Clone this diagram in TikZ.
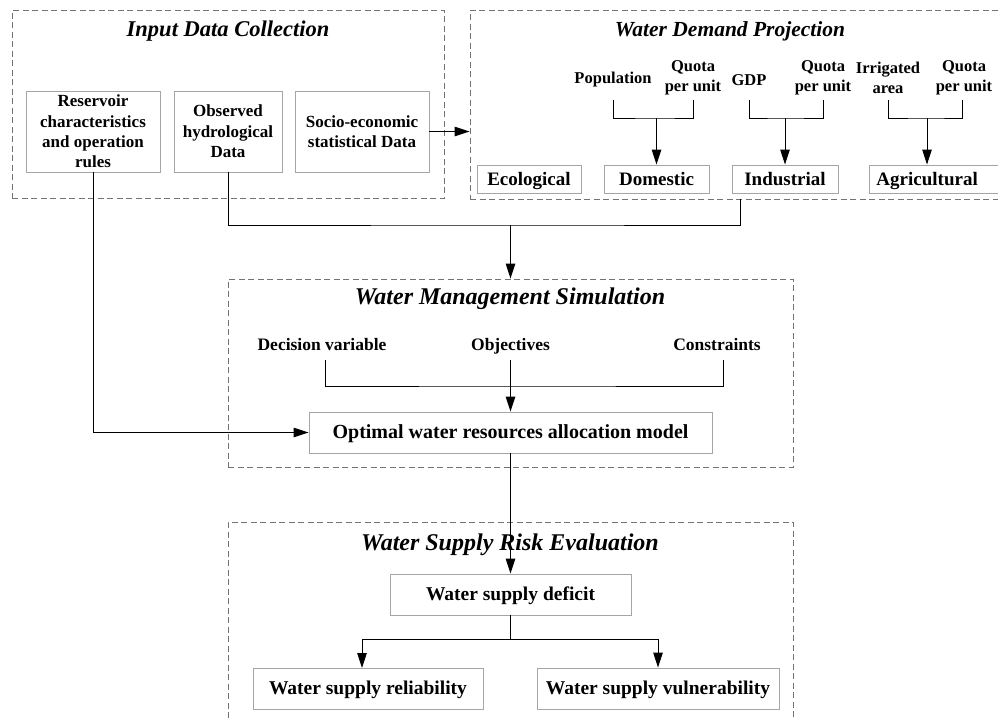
\documentclass[tikz,border=0pt]{standalone}
\usepackage{fontspec}
\setmainfont{Liberation Serif}
\usepackage{tikz}
\usetikzlibrary{arrows.meta, calc, positioning}
\definecolor{boxgray}{RGB}{165,165,165}
\definecolor{framegray}{RGB}{115,115,115}
\tikzset{
  >={Triangle[length=15pt, width=9.5pt]},
  link/.style={line width=1pt, black},
  flow/.style={->, line width=1pt, black},
  groupframe/.style={draw=framegray, line width=0.9pt,
                     dash pattern=on 6pt off 3.5pt, inner sep=0pt},
  grouptitle/.style={font=\fontsize{21.5}{24}\selectfont\bfseries\itshape},
  databox/.style={draw=boxgray, line width=0.9pt, align=center, inner sep=2pt},
  inputbox/.style={databox, minimum height=81,
                   font=\fontsize{17}{20.4}\selectfont\bfseries},
  demandbox/.style={databox, minimum height=28, text height=16pt,
                    text depth=3.5pt, font=\fontsize{19}{22}\selectfont\bfseries},
  resultbox/.style={databox, minimum height=41, text height=16pt,
                    text depth=3.5pt, font=\fontsize{19.5}{23}\selectfont\bfseries},
  factor/.style={align=center, inner sep=0pt,
                 font=\fontsize{16.5}{20}\selectfont\bfseries},
  simfactor/.style={inner sep=0pt, text height=12pt, text depth=4pt,
                    font=\fontsize{17.5}{20}\selectfont\bfseries},
}

\begin{document}
\begin{tikzpicture}[x=1pt, y=-1pt]
  \useasboundingbox (0,0) rectangle (998,720);
  \clip (0,0) rectangle (998,720);

  % Input data collection
  \node[groupframe, minimum width=432, minimum height=188]
    (inputgrp) at (228,104) {};
  \node[grouptitle, font=\fontsize{22.5}{25}\selectfont\bfseries\itshape]
    (inputttl) at (228,31) {Input Data Collection};
  \node[inputbox, minimum width=134] (reservoir) at (93,131.5)
    {Reservoir\\characteristics\\and operation\\rules};
  \node[inputbox, minimum width=108] (observed) at (228,131.5)
    {Observed\\hydrological\\Data};
  \node[inputbox, minimum width=134] (socio) at (362,131.5)
    {Socio-economic\\statistical Data};

  % Water demand projection
  \node[groupframe, minimum width=540, minimum height=189]
    (demandgrp) at (740,104.5) {};
  \node[grouptitle] (demandttl) at (730,31) {Water Demand Projection};
  \node[factor] (pop) at (613,80) {Population};
  \node[factor] (quotaA) at (693,78) {Quota\\per unit};
  \node[factor] (gdp) at (749,80) {GDP};
  \node[factor] (quotaB) at (823,78) {Quota\\per unit};
  \node[factor] (irrig) at (888,78) {Irrigated\\area};
  \node[factor] (quotaC) at (964,78) {Quota\\per unit};
  \node[demandbox, minimum width=104] (ecological) at (529,179) {Ecological};
  \node[demandbox, minimum width=105] (domestic) at (656.5,179) {Domestic};
  \node[demandbox, minimum width=106] (industrial) at (785,179) {Industrial};
  \node[demandbox, anchor=west, inner xsep=7pt] (agri) at (869,179)
    {\makebox[122pt][l]{Agricultural}};

  \foreach \lx/\rx/\jx/\tg in {613/693/656.5/domestic,
                                749/823/785/industrial,
                                888/962/927/agri}{
    \draw[link] (\lx,100) |- (\jx,118) -| (\rx,100);
    \draw[flow] (\jx,118) -- (\jx,118 |- \tg.north);
  }

  % Water management simulation
  \node[groupframe, minimum width=565, minimum height=188]
    (managegrp) at (510.5,373) {};
  \node[grouptitle, font=\fontsize{24}{27}\selectfont\bfseries\itshape]
    (managettl) at (510,299) {Water Management Simulation};
  \node[simfactor] (decision) at (322,346) {Decision variable};
  \node[simfactor] (objectives) at (510.5,346) {Objectives};
  \node[simfactor] (constraints) at (717,346) {Constraints};
  \node[resultbox, minimum width=403, font=\fontsize{20}{23}\selectfont\bfseries]
    (optimal) at (510.5,432.5) {Optimal water resources allocation model};

  \coordinate (decTop) at (325,360);
  \coordinate (conTop) at (723,360);
  \coordinate (simJoin) at (510.5,386);
  \draw[link] (decTop) |- (simJoin) -| (conTop);
  \draw[flow] (objectives.south |- decTop) -- (optimal.north);

  % Water supply risk evaluation
  \node[groupframe, minimum width=565, minimum height=238]
    (riskgrp) at (510.5,641) {};
  \node[grouptitle, font=\fontsize{24}{27}\selectfont\bfseries\itshape]
    (riskttl) at (510,545) {Water Supply Risk Evaluation};
  \node[resultbox, minimum width=241] (deficit) at (510.5,594.5)
    {Water supply deficit};
  \node[resultbox, minimum width=230] (reliab) at (368,688.5)
    {Water supply reliability};
  \node[resultbox, minimum width=242] (vulner) at (658,688.5)
    {Water supply vulnerability};

  % connectors between the groups
  \coordinate (mergeJ) at (510.5,225);
  \coordinate (splitJ) at (510.5,639);
  \coordinate (relIn) at (362,668);
  \draw[flow] (socio.east) -- (socio.east -| demandgrp.west);
  \draw[link] (observed.south) |- (mergeJ) -| (demandgrp.south);
  \draw[flow] (mergeJ) -- (managegrp.north);
  \draw[flow] (reservoir.south) |- (optimal.west);
  \draw[flow] (optimal.south) -- (deficit.north);
  \draw[link] (deficit.south) -- (splitJ);
  \draw[flow] (splitJ) -| (relIn);
  \draw[flow] (splitJ) -| (vulner.north);

\end{tikzpicture}
\end{document}
